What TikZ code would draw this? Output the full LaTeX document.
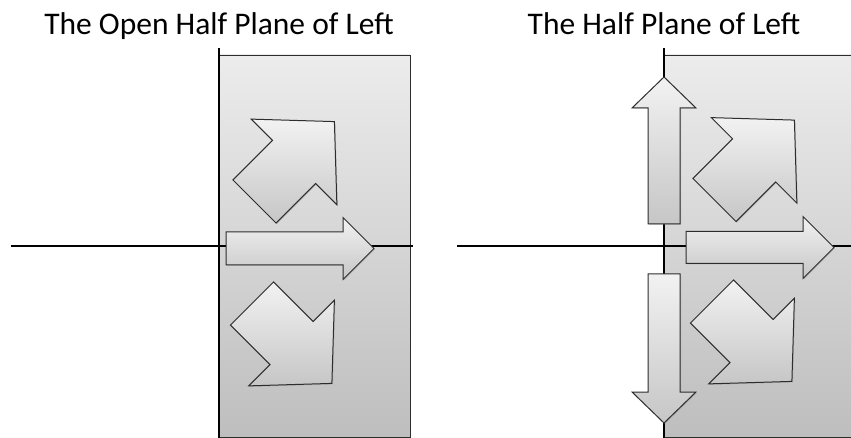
\documentclass[tikz,border=0pt]{standalone}
\usepackage{fontspec}
\setmainfont{Carlito}
\usetikzlibrary{shadows}
\definecolor{PlaneTop}{RGB}{236, 236, 236}
\definecolor{PlaneBottom}{RGB}{190, 190, 190}
\definecolor{ArrowLight}{RGB}{242, 242, 242}
\definecolor{ArrowDark}{RGB}{198, 198, 198}
\definecolor{EdgeGray}{RGB}{45, 45, 45}

% block arrow: tail centre, angle, shaft length, total length, half shaft width, half head width
\newcommand{\blockarrow}[6]{%
  \draw[arrowbox, shift={(#1)}, rotate=#2]
    (0,-#5) -- (#3,-#5) -- (#3,-#6) -- (#4,0) -- (#3,#6) -- (#3,#5) -- (0,#5) -- cycle;}

\begin{document}
\begin{tikzpicture}[x=1pt, y=-1pt,
    plane/.style={draw=EdgeGray, line width=0.9pt, top color=PlaneTop, bottom color=PlaneBottom},
    axis/.style={line width=2.8pt, black},
    arrowbox/.style={draw=EdgeGray, line width=1pt, top color=ArrowLight, bottom color=ArrowDark,
        drop shadow={shadow xshift=1pt, shadow yshift=-1pt, opacity=0.3}},
    title/.style={anchor=base, font=\fontsize{31.5}{36}\selectfont}]
    \useasboundingbox (0,0) rectangle (851,438);
    \node[title] (title1) at (219,35) {The Open Half Plane of Left};
    \node[title] (title2) at (664,35) {The Half Plane of Left};
    % open half plane
    \path[plane] (219,55) rectangle (410,437);
    \draw[axis] (11,246) -- (413,246);
    \draw[axis] (219,48) -- (219,438);
    \blockarrow{254.5,201.5}{45}{56}{113}{30.5}{60.5}
    \blockarrow{226,248.5}{0}{117}{148}{16.5}{31}
    \blockarrow{252,303.5}{-45}{56}{113}{30.5}{60.5}
    % half plane
    \begin{scope}
        \clip (0,0) rectangle (851,438);
        \path[plane] (664,55) rectangle (880,437);
        \draw[axis] (457,246) -- (860,246);
    \end{scope}
    \draw[axis] (664,48) -- (664,438);
    \blockarrow{714.5,200}{45}{56}{113}{30.5}{60.5}
    \blockarrow{686,247.5}{0}{117}{148}{16}{31}
    \blockarrow{712,301.5}{-45}{56}{113}{30.5}{60.5}
    \blockarrow{664,224}{90}{116}{147}{16}{32}
    \blockarrow{664,274}{-90}{118}{149}{16}{32}
\end{tikzpicture}
\end{document}
